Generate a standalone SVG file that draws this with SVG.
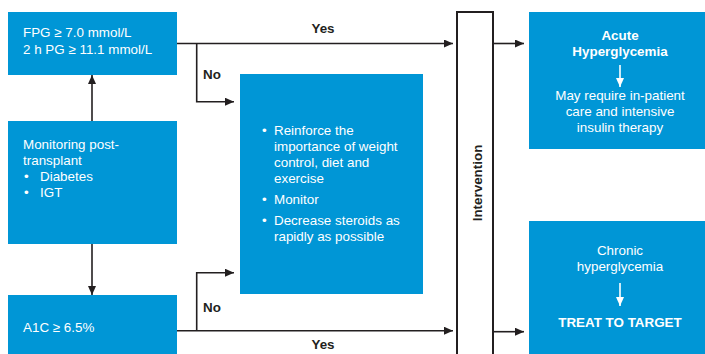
<svg xmlns="http://www.w3.org/2000/svg" width="705" height="354" viewBox="0 0 705 354">
<style>
.box{fill:#0096d6}
.t{font-family:"Liberation Sans",Arial,sans-serif;font-size:13.4px;fill:#fff}
.b{font-weight:bold}
.c{text-anchor:middle}
.lbl{font-family:"Liberation Sans",Arial,sans-serif;font-size:13.4px;font-weight:bold;fill:#231f20}
.ln{fill:none;stroke:#231f20;stroke-width:1.6}
.wl{fill:none;stroke:#fff;stroke-width:1.6}
</style>
<defs>
<marker id="ah" markerWidth="9" markerHeight="8" refX="9" refY="4" orient="auto" markerUnits="userSpaceOnUse">
<path d="M0,0 L9,4 L0,8 Z" fill="#231f20"/>
</marker>
<marker id="wh" markerWidth="9" markerHeight="8" refX="9" refY="4" orient="auto" markerUnits="userSpaceOnUse">
<path d="M0,0 L9,4 L0,8 Z" fill="#fff"/>
</marker>
</defs>
<g id="connectors">
<path class="ln" d="M92,121 V75" marker-end="url(#ah)"/>
<path class="ln" d="M92,244 V295" marker-end="url(#ah)"/>
<path class="ln" d="M177,43.5 H453" marker-end="url(#ah)"/>
<path class="ln" d="M196.7,43.5 V101.7 H234" marker-end="url(#ah)"/>
<path class="ln" d="M177,330.7 H453" marker-end="url(#ah)"/>
<path class="ln" d="M196.7,330.7 V272.7 H234" marker-end="url(#ah)"/>
<path class="ln" d="M493,43.5 H524" marker-end="url(#ah)"/>
<path class="ln" d="M493,331.7 H524" marker-end="url(#ah)"/>
<text class="lbl c" x="323" y="33">Yes</text>
<text class="lbl" x="203" y="79">No</text>
<text class="lbl" x="203" y="312">No</text>
<text class="lbl c" x="323" y="349">Yes</text>
</g>
<g id="fpg">
<rect class="box" x="8" y="12" width="169" height="63"/>
<text class="t" x="23" y="37">FPG ≥ 7.0 mmol/L</text>
<text class="t" x="23" y="53.5">2 h PG ≥ 11.1 mmol/L</text>
</g>
<g id="monitoring">
<rect class="box" x="8" y="121" width="169" height="123"/>
<text class="t" x="23" y="149">Monitoring post-</text>
<text class="t" x="23" y="165">transplant</text>
<text class="t" x="24" y="181">•</text><text class="t" x="40" y="181">Diabetes</text>
<text class="t" x="24" y="197">•</text><text class="t" x="40" y="197">IGT</text>
</g>
<g id="a1c">
<rect class="box" x="8" y="295" width="169" height="62"/>
<text class="t" x="23" y="331.5">A1C ≥ 6.5%</text>
</g>
<g id="lifestyle">
<rect class="box" x="240" y="74" width="183" height="220"/>
<text class="t" x="262" y="135">•</text>
<text class="t" x="274" y="135">Reinforce the</text>
<text class="t" x="274" y="151">importance of weight</text>
<text class="t" x="274" y="167">control, diet and</text>
<text class="t" x="274" y="183">exercise</text>
<text class="t" x="262" y="204">•</text>
<text class="t" x="274" y="204">Monitor</text>
<text class="t" x="262" y="225">•</text>
<text class="t" x="274" y="225">Decrease steroids as</text>
<text class="t" x="274" y="241">rapidly as possible</text>
</g>
<g id="intervention">
<rect x="457" y="12" width="36" height="360" fill="#fff" stroke="#231f20" stroke-width="2"/>
<text class="lbl c" transform="translate(482,183) rotate(-90)">Intervention</text>
</g>
<g id="acute">
<rect class="box" x="529" y="12" width="180" height="137"/>
<text class="t b c" x="620" y="39.5">Acute</text>
<text class="t b c" x="620" y="55.5">Hyperglycemia</text>
<path class="wl" d="M620,65 V87" marker-end="url(#wh)"/>
<text class="t c" x="620" y="100">May require in-patient</text>
<text class="t c" x="620" y="116">care and intensive</text>
<text class="t c" x="620" y="132">insulin therapy</text>
</g>
<g id="chronic">
<rect class="box" x="529" y="221" width="180" height="140"/>
<text class="t c" x="620" y="255">Chronic</text>
<text class="t c" x="620" y="271">hyperglycemia</text>
<path class="wl" d="M620,283 V306" marker-end="url(#wh)"/>
<text class="t b c" x="620" y="327">TREAT TO TARGET</text>
</g>
</svg>
